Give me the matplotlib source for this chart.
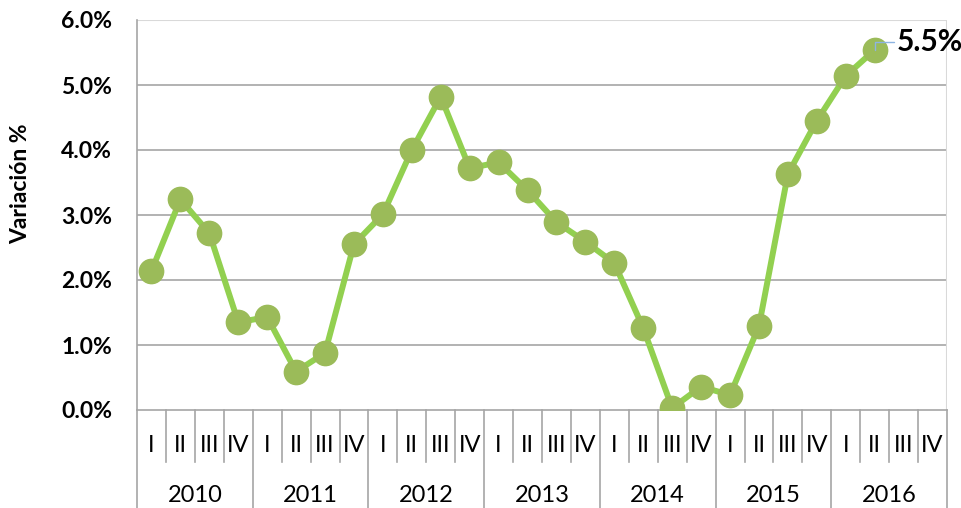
import numpy as np
import matplotlib
matplotlib.use("Agg")
import matplotlib.pyplot as plt
import matplotlib.transforms as mtransforms

plt.rcParams['font.family'] = ['Lato', 'DejaVu Sans']

years = ['2010', '2011', '2012', '2013', '2014', '2015', '2016']
quarters = ['I', 'II', 'III', 'IV']
variacion = [2.14, 3.24, 2.72, 1.35,
             1.43, 0.59, 0.88, 2.55,
             3.01, 4.00, 4.82, 3.72,
             3.81, 3.38, 2.89, 2.59,
             2.26, 1.26, 0.03, 0.36,
             0.23, 1.29, 3.63, 4.45,
             5.14, 5.54]
last_label = '5.5%'

n_cat = len(years) * len(quarters)
x = np.arange(len(variacion))

fig = plt.figure(figsize=(9.62, 5.08), dpi=100)
ax = fig.add_axes([137 / 962, 98 / 508, 810 / 962, 390 / 508])

ax.plot(x, variacion, color='#92D050', lw=4.3, zorder=3,
        marker='o', markersize=17.5, markerfacecolor='#9BBB59',
        markeredgecolor='#9BBB59', solid_joinstyle='round')

ax.set_xlim(-0.5, n_cat - 0.5)
ax.set_ylim(0, 6)
ax.set_yticks(np.arange(0, 6.1, 1))
ax.set_yticklabels([f'{v:.1f}%' for v in np.arange(0, 6.1, 1)],
                   fontsize=16.5, fontweight='bold')
ax.tick_params(axis='y', length=0, pad=18)
ax.set_xticks([])

for v in np.arange(1, 6, 1):
    ax.axhline(v, color='#A6A6A6', lw=1.2, zorder=1)
ax.axhline(6, color='#D9D9D9', lw=1.5, zorder=1)

for s in ['top', 'right']:
    ax.spines[s].set_visible(False)
ax.spines['left'].set_color('#A6A6A6')
ax.spines['bottom'].set_color('#A6A6A6')
ax.spines['left'].set_linewidth(1.2)
ax.spines['bottom'].set_linewidth(1.2)
ax.axvline(n_cat - 0.5, color='#D9D9D9', lw=1.5, zorder=1)

ax.set_ylabel('Variación %', fontsize=16.5, fontweight='bold')
ax.yaxis.set_label_coords(-0.131, 0.58)

# multi-level category axis
trans = mtransforms.blended_transform_factory(ax.transData, ax.transAxes)
px = 1 / 390
for k in range(n_cat + 1):
    bottom = -98 * px if k % 4 == 0 else -52 * px
    ax.plot([k - 0.5, k - 0.5], [0, bottom], transform=trans,
            color='#A6A6A6', lw=1.2, clip_on=False)
for k in range(n_cat):
    ax.text(k, -35 * px, quarters[k % 4], transform=trans, ha='center',
            va='center', fontsize=17)
for j, yr in enumerate(years):
    ax.text(j * 4 + 1.5, -85 * px, yr, transform=trans, ha='center',
            va='center', fontsize=17)

ax.annotate(last_label, xy=(x[-1], variacion[-1]), xytext=(16, 6),
            textcoords='offset points', fontsize=21.5, fontweight='bold',
            ha='left', va='center',
            arrowprops=dict(arrowstyle='-', color='#8DB4E2', lw=1,
                            shrinkA=0, shrinkB=0,
                            connectionstyle='angle,angleA=0,angleB=90'))

fig.savefig('out.png', dpi=100)
